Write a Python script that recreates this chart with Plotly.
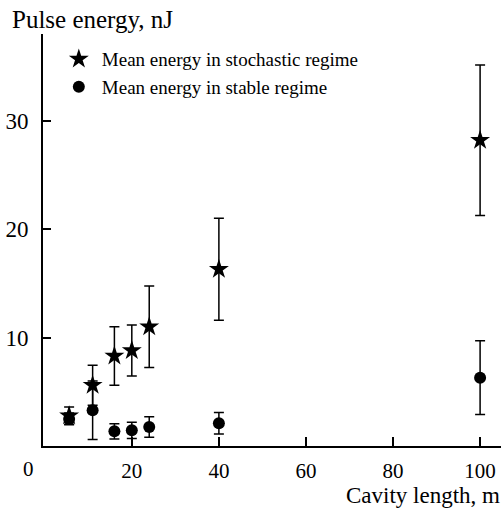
import plotly.graph_objects as go

# Data
x_stochastic = [5.6, 11, 16, 20, 24, 40, 100]
y_stochastic = [2.8, 5.6, 8.3, 8.8, 11.0, 16.3, 28.2]
err_stochastic = [0.8, 1.85, 2.7, 2.35, 3.75, 4.7, 6.95]

x_stable = [5.6, 11, 16, 20, 24, 40, 100]
y_stable = [2.5, 3.3, 1.35, 1.45, 1.75, 2.1, 6.3]
err_stable = [0.55, 2.7, 0.7, 0.75, 0.95, 1.0, 3.4]

x_ticks = [20, 40, 60, 80, 100]
y_ticks = [10, 20, 30]

name_stochastic = "Mean energy in stochastic regime"
name_stable = "Mean energy in stable regime"

FONT = "Liberation Serif, Times New Roman, serif"

fig = go.Figure()
fig.add_trace(go.Scatter(
    x=x_stable, y=y_stable, mode="markers", name=name_stable,
    marker=dict(symbol="circle", size=12, color="black"),
    error_y=dict(type="data", array=err_stable, color="black", thickness=1.5, width=5),
    legendrank=2,
))
fig.add_trace(go.Scatter(
    x=x_stochastic, y=y_stochastic, mode="markers", name=name_stochastic,
    marker=dict(symbol="star", size=15, color="black"),
    error_y=dict(type="data", array=err_stochastic, color="black", thickness=1.5, width=5),
    legendrank=1,
))

fig.update_layout(
    width=501, height=508,
    margin=dict(l=43, r=0, t=34, b=62),
    paper_bgcolor="white", plot_bgcolor="white",
    font=dict(family=FONT, color="black", size=22),
    showlegend=True,
    legend=dict(x=0.028, y=0.985, xanchor="left", yanchor="top",
                font=dict(family=FONT, size=19, color="black"),
                bgcolor="rgba(0,0,0,0)", itemwidth=36, tracegroupgap=0),
    xaxis=dict(range=[-0.4, 104.8], tickvals=x_ticks, ticks="inside", ticklen=9,
               tickwidth=2, tickcolor="black", showline=True, linecolor="black",
               linewidth=2, showgrid=False, zeroline=False,
               tickfont=dict(family=FONT, size=21, color="black"), ticklabelstandoff=5),
    yaxis=dict(range=[0, 38], tickvals=y_ticks, ticks="inside", ticklen=8,
               tickwidth=2, tickcolor="black", showline=True, linecolor="black",
               linewidth=2, showgrid=False, zeroline=False,
               tickfont=dict(family=FONT, size=23, color="black"), ticklabelstandoff=8),
    annotations=[
        dict(text="Pulse energy, nJ", xref="paper", yref="paper", x=-0.072, y=1.034,
             xanchor="left", yanchor="middle", showarrow=False,
             font=dict(family=FONT, size=25, color="black")),
        dict(text="Cavity length, m", xref="paper", yref="paper", x=1.0, y=-0.1528,
             xanchor="right", yanchor="bottom", showarrow=False, borderpad=0,
             font=dict(family=FONT, size=23, color="black")),
        dict(text="0", xref="paper", yref="paper", x=-0.032, y=-0.055,
             xanchor="center", yanchor="middle", showarrow=False,
             font=dict(family=FONT, size=21, color="black")),
    ],
)

fig.write_html("out.html")
